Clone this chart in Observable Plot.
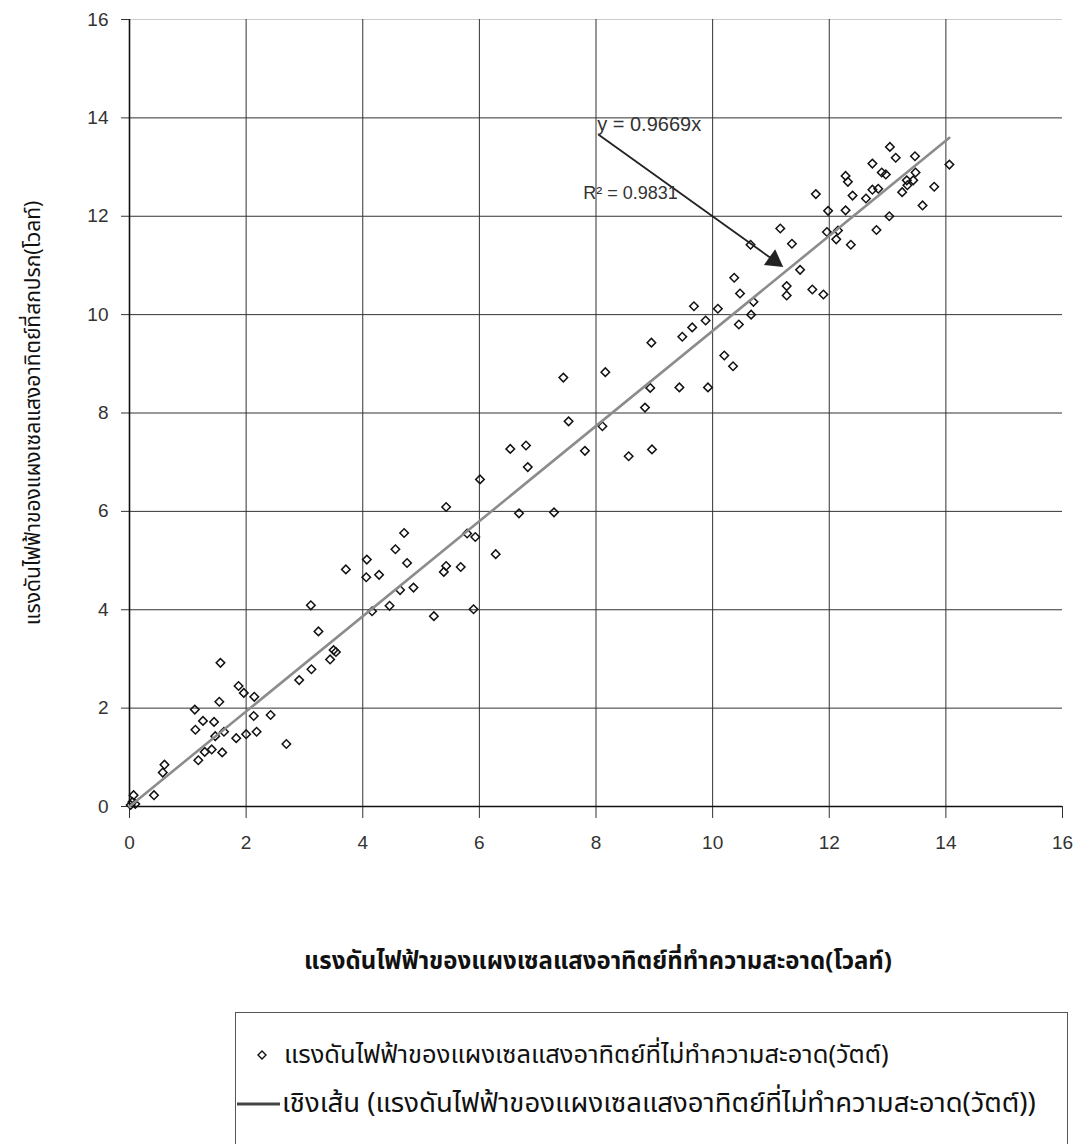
<!DOCTYPE html>
<html>
<head>
<meta charset="utf-8">
<script src="https://cdn.jsdelivr.net/npm/d3@7"></script>
<script src="https://cdn.jsdelivr.net/npm/@observablehq/plot@0.6"></script>
<style>
  html, body { margin: 0; padding: 0; background: #fff; overflow: hidden; }
  #wrap { position: relative; width: 1080px; height: 1144px; }
  .thai { font-family: "Noto Sans Thai", "Tahoma", "DejaVu Sans", "Noto Sans", sans-serif; color: #111; }
  #xtitle { position: absolute; left: 0; width: 1196px; top: 944px; text-align: center; font-size: 24px; font-weight: bold; white-space: nowrap; }
  #legend { position: absolute; left: 235px; top: 1012px; width: 833px; height: 160px; border: 1px solid #555; box-sizing: border-box; }
  .row { position: absolute; left: 0; display: flex; align-items: center; white-space: nowrap; }
</style>
</head>
<body>
<div id="wrap">
  <div id="chart"></div>
  <div id="xtitle" class="thai"></div>
  <div id="legend" class="thai">
    <div class="row" id="row1" style="top: 23px; font-size: 25.5px;"></div>
    <div class="row" id="row2" style="top: 70px; font-size: 27.5px;"></div>
  </div>
</div>
<script>
// Axis ticks
const xTicks = [0, 2, 4, 6, 8, 10, 12, 14, 16];
const yTicks = [0, 2, 4, 6, 8, 10, 12, 14, 16];

// Voltage of the cleaned panel (x) and of the uncleaned panel (y), volts
const cleanVolt = [
  0.05, 0.02, 0.10, 0.07, 0.42, 0.57, 0.60,
  1.18, 1.29, 1.41, 1.59, 1.47, 1.83, 2.00, 2.18, 1.62, 1.13, 1.26, 1.45, 1.12,
  1.54, 2.13, 2.42, 1.56, 1.87, 1.96, 2.14, 2.69, 2.91, 3.12, 3.44, 3.50, 3.54,
  3.24, 3.11,
  3.71, 4.07, 4.06, 4.28, 4.16, 4.46, 4.64, 4.87, 4.56, 4.71, 4.76, 5.22, 5.39,
  5.43, 5.68, 5.43, 5.79, 5.93, 5.90, 6.01, 6.28, 6.68, 7.28,
  6.53, 6.80, 6.83, 7.44, 7.53, 7.81, 8.11, 8.16, 8.56, 8.84, 8.93, 8.95, 8.96,
  9.43, 9.48, 9.65, 9.68, 9.88, 9.92, 10.09, 10.20, 10.35, 10.37, 10.45, 10.47,
  10.66, 10.70, 10.65,
  11.16, 11.27, 11.27, 11.36, 11.50, 11.71, 11.90, 11.77, 11.96, 11.98, 12.12,
  12.15, 12.28, 12.28, 12.32, 12.37, 12.40, 12.63, 12.74, 12.74, 12.81, 12.84,
  12.90, 12.97, 13.03, 13.04, 13.14, 13.25, 13.33, 13.34, 13.44, 13.47, 13.48,
  13.60, 13.80, 14.06
];
const dirtyVolt = [
  0.09, 0.03, 0.05, 0.23, 0.23, 0.69, 0.85,
  0.94, 1.11, 1.16, 1.10, 1.43, 1.39, 1.47, 1.52, 1.52, 1.56, 1.74, 1.72, 1.97,
  2.13, 1.84, 1.86, 2.92, 2.45, 2.31, 2.23, 1.27, 2.57, 2.79, 2.99, 3.18, 3.14,
  3.56, 4.09,
  4.82, 5.02, 4.66, 4.71, 3.97, 4.08, 4.40, 4.45, 5.23, 5.56, 4.95, 3.87, 4.77,
  4.89, 4.87, 6.09, 5.55, 5.48, 4.01, 6.65, 5.13, 5.96, 5.98,
  7.27, 7.34, 6.90, 8.72, 7.83, 7.23, 7.73, 8.83, 7.12, 8.11, 8.51, 9.43, 7.26,
  8.52, 9.55, 9.74, 10.17, 9.88, 8.52, 10.12, 9.17, 8.95, 10.75, 9.80, 10.43,
  10.00, 10.26, 11.42,
  11.75, 10.58, 10.39, 11.44, 10.91, 10.51, 10.41, 12.45, 11.68, 12.11, 11.53,
  11.71, 12.12, 12.82, 12.70, 11.42, 12.42, 12.36, 13.07, 12.54, 11.72, 12.56,
  12.89, 12.85, 12.00, 13.41, 13.19, 12.49, 12.73, 12.63, 12.73, 13.22, 12.89,
  12.22, 12.60, 13.05
];

// Linear trend through the origin
const slope = 0.9669;
const rSquared = 0.9831;

// Text
const xTitle = "แรงดันไฟฟ้าของแผงเซลแสงอาทิตย์ที่ทำความสะอาด(โวลท์)";
const yTitle = "แรงดันไฟฟ้าของแผงเซลแสงอาทิตย์ที่สกปรก(โวลท์)";
const seriesName = "แรงดันไฟฟ้าของแผงเซลแสงอาทิตย์ที่ไม่ทำความสะอาด(วัตต์)";
const trendName = "เชิงเส้น (" + seriesName + ")";
const eqText = `y = ${slope}x`;
const r2Text = `R² = ${rSquared}`;

// Build the tables the marks read
const points = cleanVolt.map((x, i) => ({x, y: dirtyVolt[i]}));
const trend = [0, d3.max(cleanVolt)].map(x => ({x, y: slope * x}));

// Layout
const W = 1080, H = 880;
const mL = 129, mR = 18, mT = 19, mB = 74;
const kx = (W - mL - mR) / 16, ky = (H - mT - mB) / 16;

// Annotation arrow, with a filled head
const arrowFrom = {x: 8.04, y: 13.66};
const arrowTo = {x: 11.21, y: 10.97};
const dxPx = (arrowTo.x - arrowFrom.x) * kx;
const dyPx = (arrowFrom.y - arrowTo.y) * ky;
const lenPx = Math.hypot(dxPx, dyPx);
const angle = Math.atan2(dyPx, dxPx) * 180 / Math.PI;
const headR = 7.2;
const back = (headR * 1.555) / lenPx;
const headAt = {x: arrowTo.x - back * (arrowTo.x - arrowFrom.x), y: arrowTo.y - back * (arrowTo.y - arrowFrom.y)};

const tickFont = {fontSize: 19, fill: "#333"};

const chart = Plot.plot({
  width: W,
  height: H,
  marginLeft: mL,
  marginRight: mR,
  marginTop: mT,
  marginBottom: mB,
  style: {fontFamily: "'Liberation Sans', Arial, sans-serif", fontSize: "19px", color: "#222", background: "#fff"},
  x: {domain: [0, 16]},
  y: {domain: [0, 16]},
  marks: [
    Plot.ruleY([16], {stroke: "#ccc", strokeWidth: 1}),
    Plot.gridX(xTicks.filter(t => t < 16), {stroke: "#333", strokeOpacity: 1, strokeWidth: 1}),
    Plot.gridY(yTicks.filter(t => t < 16), {stroke: "#333", strokeOpacity: 1, strokeWidth: 1}),
    Plot.axisX(xTicks, {tickSize: 12, tickPadding: 17, stroke: "#333", label: null, ...tickFont}),
    Plot.axisY(yTicks, {tickSize: 8, tickPadding: 13, stroke: "#333", label: null, ...tickFont}),
    Plot.ruleX([0], {stroke: "#111", strokeWidth: 1.6}),
    Plot.ruleY([0], {stroke: "#111", strokeWidth: 1.6}),
    Plot.dot(points, {x: "x", y: "y", symbol: "square", r: 3.4, rotate: 45, stroke: "#111", strokeWidth: 1.5, fill: "none"}),
    Plot.line(trend, {x: "x", y: "y", stroke: "#8c8c8c", strokeWidth: 2.6}),
    Plot.link([0], {x1: arrowFrom.x, y1: arrowFrom.y, x2: headAt.x, y2: headAt.y, stroke: "#222", strokeWidth: 1.8}),
    Plot.dot([0], {x: headAt.x, y: headAt.y, symbol: "triangle", r: headR, rotate: 90 + angle, fill: "#222", stroke: "none"}),
    Plot.text([eqText], {x: 8.02, y: 13.86, text: d => d, textAnchor: "start", fontSize: 20, fill: "#333"}),
    Plot.text([r2Text], {x: 7.78, y: 12.47, text: d => d, textAnchor: "start", fontSize: 18, fill: "#333"}),
    Plot.text([yTitle], {frameAnchor: "left", dx: -96, rotate: -90, textAnchor: "middle", text: d => d, fontSize: 21, fill: "#111",
      fontFamily: "'Noto Sans Thai', Tahoma, 'DejaVu Sans', sans-serif"})
  ]
});
document.getElementById("chart").appendChild(chart);

// Title and legend below the plot
document.getElementById("xtitle").textContent = xTitle;
document.getElementById("row1").innerHTML =
  `<svg width="48" height="16" style="flex:none"><path d="M26,4 L30,8 L26,12 L22,8 Z" fill="none" stroke="#111" stroke-width="1.4"/></svg><span></span>`;
document.querySelector("#row1 span").textContent = seriesName;
document.getElementById("row2").innerHTML =
  `<svg width="46" height="16" style="flex:none"><line x1="1" y1="8" x2="44" y2="8" stroke="#444" stroke-width="3"/></svg><span></span>`;
document.querySelector("#row2 span").textContent = trendName;
</script>
</body>
</html>
